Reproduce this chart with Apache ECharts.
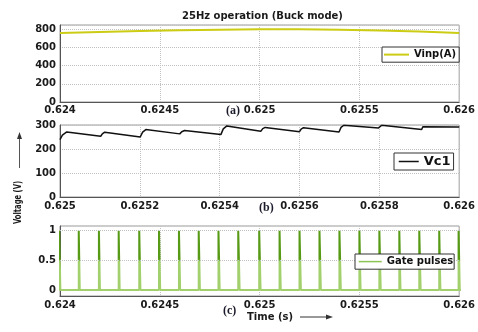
<!DOCTYPE html>
<html>
<head>
<meta charset="utf-8">
<script src="https://cdn.jsdelivr.net/npm/echarts@6/dist/echarts.min.js"></script>
<style>
  html, body { margin: 0; padding: 0; background: #fff; }
  #chart { width: 478px; height: 332px; }
</style>
</head>
<body>
<div id="chart"></div>
<script>
// (a) Input voltage Vinp(A) over 0.624–0.626 s
const vinpTime  = [0.6240, 0.6242, 0.6244, 0.6246, 0.6248, 0.6250, 0.6252, 0.6254, 0.6256, 0.6258, 0.6260];
const vinpVolts = [756, 768, 779, 788, 794, 797, 797, 794, 786, 773, 757];

// (b) Capacitor voltage Vc1 over 0.625–0.626 s (charge steps + linear droop)
const vc1Time = [
  0.625000, 0.625006, 0.625017, 0.625102, 0.625106, 0.625112,
  0.625201, 0.625207, 0.625215, 0.625300, 0.625305, 0.625312,
  0.625403, 0.625409, 0.625418, 0.625503, 0.625508, 0.625514,
  0.625600, 0.625604, 0.625610, 0.625699, 0.625704, 0.625711,
  0.625798, 0.625801, 0.625806, 0.625906, 0.625909, 0.625914,
  0.626000
];
const vc1Volts = [
  239, 258, 271, 253, 263, 270,
  250, 270, 281, 263, 272, 277,
  260, 284, 296, 274, 285, 290,
  272, 283, 289, 271, 290, 299,
  288, 295, 299, 281, 293, 300,
  292
];

// (c) Gate pulses: rising-edge times (s) and on-widths (µs)
const pulseOn = [
  0.623996, 0.624094, 0.624195, 0.624294, 0.624397, 0.624496, 0.624596,
  0.624695, 0.624794, 0.624893, 0.624998, 0.625100, 0.625200, 0.625300,
  0.625400, 0.625500, 0.625600, 0.625700, 0.625800, 0.625900, 0.625997
];
const pulseWidthUs = [6, 5, 5, 5, 6, 6, 6, 6, 6, 7, 7, 6, 7, 7, 7, 6, 7, 6, 7, 6, 6];

// Tick labels
const xTicksWide   = [0.624, 0.6245, 0.625, 0.6255, 0.626];
const xTicksNarrow = [0.625, 0.6252, 0.6254, 0.6256, 0.6258, 0.626];
const yTicksA = [0, 200, 400, 600, 800];
const yTicksB = [0, 100, 200, 300];
const yTicksC = [0, 0.5, 1];

const FONT = 'DejaVu Sans';
const labelStyle = { fontFamily: FONT, fontWeight: 'bold', fontSize: 10, color: '#1a1a1a' };
const gridLine = { type: 'dotted', color: '#c2c2c2', width: 1 };
const fmtTime = v => String(+(+v).toFixed(5));

const gateData = [[0.6239, 0]];
pulseOn.forEach((t, i) => {
  const off = t + pulseWidthUs[i] * 1e-6;
  gateData.push([t, 0], [t, 1], [off, 1], [off, 0]);
});
gateData.push([0.6261, 0]);

const zip = (xs, ys) => xs.map((x, i) => [x, ys[i]]);

function xAxisFor(gridIndex, min, max, interval, ticks, margin) {
  return {
    type: 'value', gridIndex, min, max, interval,
    axisLine: { show: true, onZero: false, lineStyle: { color: '#555', width: 1 } },
    axisTick: { show: false },
    splitLine: { show: true, lineStyle: gridLine },
    axisLabel: { ...labelStyle, margin, customValues: ticks, formatter: fmtTime }
  };
}
function yAxisFor(gridIndex, min, max, interval, ticks, split) {
  const ax = {
    type: 'value', gridIndex, min, max,
    axisLine: { show: true, onZero: false, lineStyle: { color: '#555', width: 1 } },
    axisTick: { show: false },
    splitLine: { show: split, lineStyle: gridLine },
    axisLabel: { ...labelStyle, margin: 4, customValues: ticks, formatter: v => String(+(+v).toFixed(3)) }
  };
  if (interval) ax.interval = interval;
  return ax;
}

const legendBase = {
  orient: 'horizontal', backgroundColor: '#fff', borderColor: '#333', borderWidth: 1,
  borderRadius: 0, itemHeight: 14, itemGap: 0, z: 10,
  itemStyle: { opacity: 0 },
  textStyle: { fontFamily: FONT, fontWeight: 'bold', fontSize: 10, color: '#111' }
};

const pulseGradient = new echarts.graphic.LinearGradient(0, 0, 0, 1, [
  { offset: 0, color: '#579a16' },
  { offset: 0.48, color: '#579a16' },
  { offset: 0.52, color: '#a2d06c' },
  { offset: 1, color: '#a2d06c' }
]);

const chart = echarts.init(document.getElementById('chart'), null, { renderer: 'canvas' });
chart.setOption({
  animation: false,
  backgroundColor: '#fff',
  title: {
    text: '25Hz operation (Buck mode)', left: 177, top: 6,
    textStyle: { fontFamily: FONT, fontWeight: 'bold', fontSize: 10, color: '#1a1a1a' }
  },
  grid: [
    { left: 60, top: 25, width: 403, height: 77, show: true, borderColor: '#9a9a9a', borderWidth: 1, backgroundColor: '#fff' },
    { left: 60, top: 125, width: 403, height: 72, show: true, borderColor: '#9a9a9a', borderWidth: 1, backgroundColor: '#fff' },
    { left: 60, top: 226, width: 403, height: 70, show: true, borderColor: '#9a9a9a', borderWidth: 1, backgroundColor: '#fff' }
  ],
  xAxis: [
    xAxisFor(0, 0.624, 0.626, 0.0005, xTicksWide, 3),
    xAxisFor(1, 0.625, 0.626, 0.0002, xTicksNarrow, 4),
    xAxisFor(2, 0.624, 0.626, 0.0005, xTicksWide, 4)
  ],
  yAxis: [
    yAxisFor(0, 0, 845, 200, yTicksA, true),
    yAxisFor(1, 0, 300, 100, yTicksB, true),
    yAxisFor(2, -0.1, 1.08, null, yTicksC, false)
  ],
  legend: [
    { ...legendBase, left: 382, top: 47, padding: [2, 3, 2, 1], itemWidth: 25,
      data: [{ name: 'Vinp(A)', itemStyle: { opacity: 0 }, lineStyle: { color: '#cccc14', width: 2, type: 'solid' } }] },
    { ...legendBase, left: 394, top: 153, padding: [2, 3, 2, 4], itemWidth: 20,
      textStyle: { ...legendBase.textStyle, fontSize: 13 },
      data: [{ name: 'Vc1', itemStyle: { opacity: 0 }, lineStyle: { color: '#111', width: 1.5, type: 'solid' } }] },
    { ...legendBase, left: 355, top: 254, padding: [2, 1, 2, 3], itemWidth: 23,
      data: [{ name: 'Gate pulses', itemStyle: { opacity: 0 }, lineStyle: { color: '#8cc456', width: 1.5, type: 'solid' } }] }
  ],
  series: [
    {
      name: 'Vinp(A)', type: 'line', xAxisIndex: 0, yAxisIndex: 0,
      data: zip(vinpTime, vinpVolts), symbol: 'none', smooth: false,
      lineStyle: { color: '#cccc14', width: 2 }
    },
    {
      name: 'Vc1', type: 'line', xAxisIndex: 1, yAxisIndex: 1,
      data: zip(vc1Time, vc1Volts), symbol: 'none',
      lineStyle: { color: '#111', width: 1.5 }
    },
    {
      name: 'grid-c', type: 'line', xAxisIndex: 2, yAxisIndex: 2, data: [], z: 1, silent: true,
      markLine: {
        symbol: 'none', silent: true, label: { show: false },
        lineStyle: gridLine,
        data: yTicksC.filter(v => v > 0).map(v => ({ yAxis: v }))
      }
    },
    {
      name: 'Gate pulses', type: 'line', xAxisIndex: 2, yAxisIndex: 2, z: 3,
      data: gateData, symbol: 'none',
      lineStyle: { color: pulseGradient, width: 2 }
    }
  ],
  graphic: [
    { type: 'text', left: 226, top: 105, style: { text: '(a)', font: 'bold 12px "Liberation Serif"', fill: '#1a1a2a' } },
    { type: 'text', left: 259, top: 202, style: { text: '(b)', font: 'bold 12px "Liberation Serif"', fill: '#1a1a2a' } },
    { type: 'text', left: 223, top: 305, style: { text: '(c)', font: 'bold 12px "Liberation Serif"', fill: '#1a1a2a' } },
    { type: 'text', x: 247, y: 317,
      style: { text: 'Time (s)', font: 'bold 10px "DejaVu Sans"', fill: '#1a1a1a', textVerticalAlign: 'middle' } },
    { type: 'line', shape: { x1: 300, y1: 317, x2: 328, y2: 317 }, style: { stroke: '#333', lineWidth: 1 } },
    { type: 'polygon', shape: { points: [[333, 317], [326, 314.5], [326, 319.5]] }, style: { fill: '#333' } },
    { type: 'text', x: 18.5, y: 202.5, rotation: Math.PI / 2, scaleX: 0.62,
      style: { text: 'Voltage (V)', font: 'bold 11px "DejaVu Sans"', fill: '#1a1a1a', textAlign: 'center', textVerticalAlign: 'middle' } },
    { type: 'line', shape: { x1: 19.5, y1: 168, x2: 19.5, y2: 137 }, style: { stroke: '#555', lineWidth: 1 } },
    { type: 'polygon', shape: { points: [[19.5, 132], [17, 139], [22, 139]] }, style: { fill: '#333' } }
  ]
});
</script>
</body>
</html>
